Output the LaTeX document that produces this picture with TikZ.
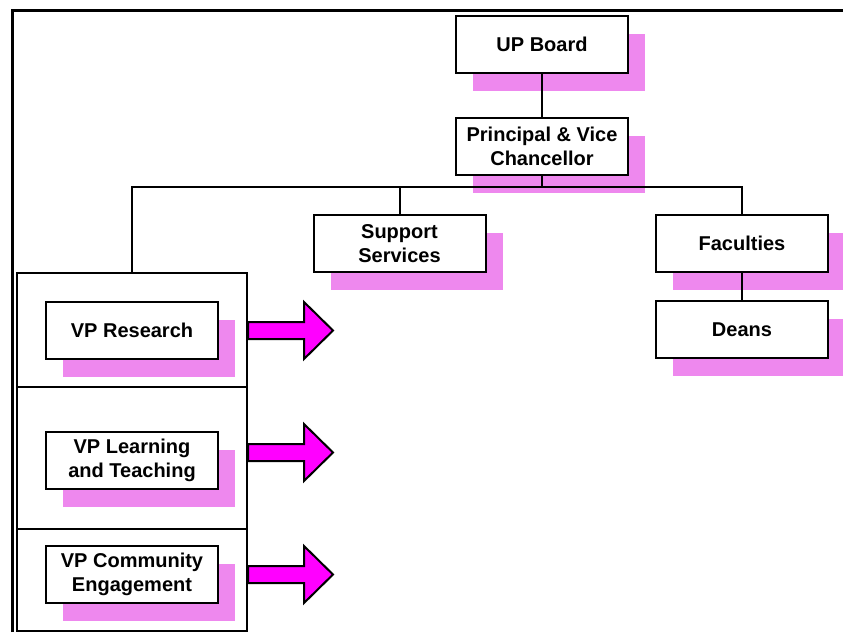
\documentclass[tikz,border=0pt]{standalone}
\usepackage{fontspec}
\setmainfont{Liberation Sans}
\usetikzlibrary{shadows}
\definecolor{shadowpink}{RGB}{238,136,238}
\definecolor{arrowpink}{RGB}{255,0,255}

\tikzset{
  orgbox/.style={draw,line width=2pt,fill=white,minimum width=172pt,minimum height=57pt,
    inner sep=2pt,align=center,font=\fontsize{20}{24}\selectfont\bfseries,
    general shadow={fill=shadowpink,shadow xshift=17pt,shadow yshift=-18pt}},
  panel/.style={draw,line width=2pt,minimum width=230pt,inner sep=0pt},
  link/.style={line width=2pt},
  bigarrow/.pic={
    \filldraw[fill=arrowpink,line width=2pt,line join=miter]
      (0,-8.5) -- (56,-8.5) -- (56,-28.5) -- (85,0) -- (56,28.5) -- (56,8.5) -- (0,8.5) -- cycle;
  }
}

\begin{document}
\begin{tikzpicture}[x=1pt,y=-1pt]
\useasboundingbox (0,0) rectangle (843,632);
\draw[line width=3pt] (12,632) -- (12,10) -- (843,10);

% top of the tree
\node[orgbox] (board) at (542,44) {UP Board};
\node[orgbox] (pvc) at (542,146.5) {Principal \& Vice\\Chancellor};
\node[orgbox] (spt) at (399.5,243.5) {Support\\Services};
\node[orgbox] (fac) at (742,243.5) {Faculties};
\node[orgbox] (dean) at (742,329.5) {Deans};

% vice principals, one panel each
\node[panel,minimum height=114pt] (pa) at (132,330) {};
\node[panel,minimum height=142pt] (pb) at (132,458) {};
\node[panel,minimum height=102pt] (pc) at (132,580) {};
\node[orgbox] (vpr) at (132,330.5) {VP Research};
\node[orgbox] (vpl) at (132,460.5) {VP Learning\\and Teaching};
\node[orgbox] (vpc) at (132,574.5) {VP Community\\Engagement};

\coordinate (bus) at (542,187);
\draw[link] (board) -- (pvc);
\draw[link] (pvc) -- (bus);
\draw[link] (pa.north) |- (fac.north |- bus) -- (fac.north);
\draw[link] (spt.north) -- (spt.north |- bus);
\draw[link] (fac) -- (dean);

\pic at (pa.east |- vpr) {bigarrow};
\pic[yshift=8pt] at (pb.east |- vpl) {bigarrow};
\pic at (pc.east |- vpc) {bigarrow};
\end{tikzpicture}
\end{document}
